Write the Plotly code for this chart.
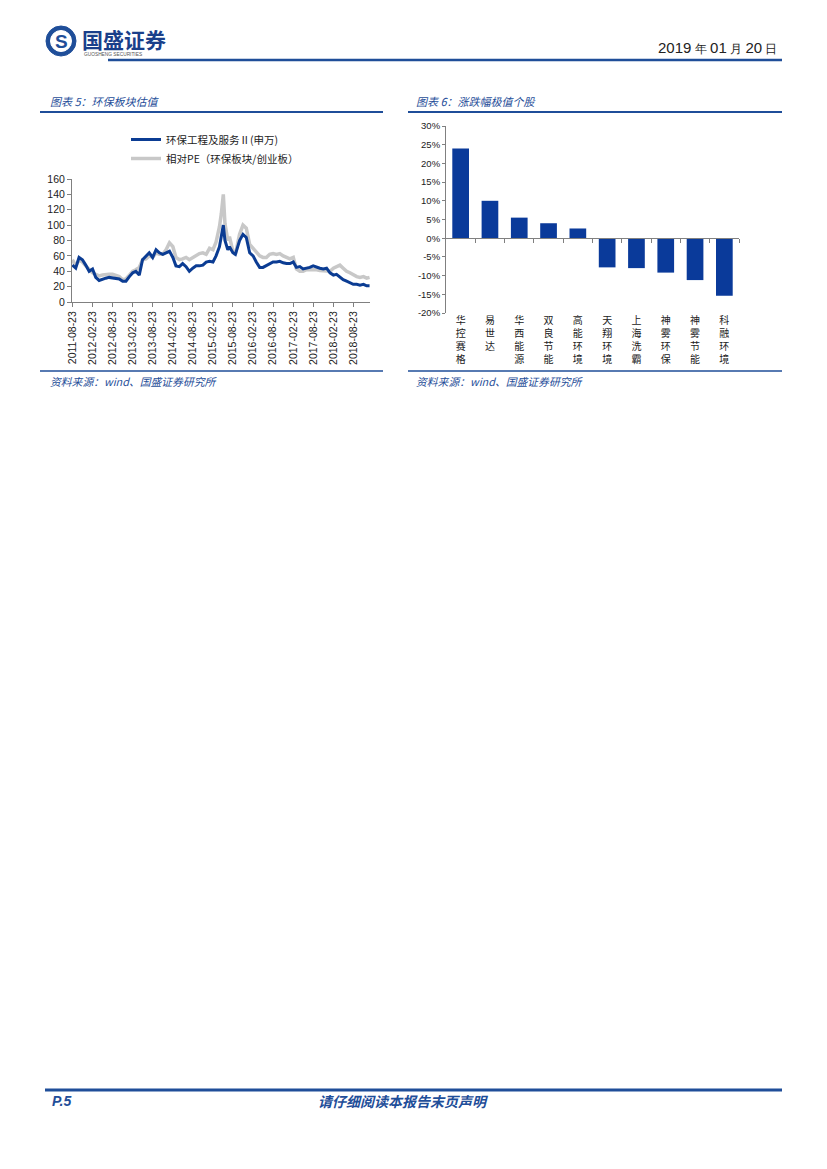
import plotly.graph_objects as go

W, H = 827, 1169

# ---------------- data: chart 5 (monthly readings) ----------------
dates = [
    "2011-08-23", "2011-09-23", "2011-10-23", "2011-11-23", "2011-12-23",
    "2012-01-23", "2012-02-23", "2012-03-23", "2012-04-23", "2012-05-23", "2012-06-23",
    "2012-07-23", "2012-08-23", "2012-09-23", "2012-10-23", "2012-11-23", "2012-12-23",
    "2013-01-23", "2013-02-23", "2013-03-23", "2013-04-23", "2013-05-23", "2013-06-23",
    "2013-07-23", "2013-08-23", "2013-09-23", "2013-10-23", "2013-11-23", "2013-12-23",
    "2014-01-23", "2014-02-23", "2014-03-23", "2014-04-23", "2014-05-23", "2014-06-23",
    "2014-07-23", "2014-08-23", "2014-09-23", "2014-10-23", "2014-11-23", "2014-12-23",
    "2015-01-23", "2015-02-23", "2015-03-23", "2015-04-23", "2015-05-10", "2015-05-28",
    "2015-06-12", "2015-07-08", "2015-07-23", "2015-08-23", "2015-09-15", "2015-10-23",
    "2015-11-23", "2015-12-23", "2016-01-23", "2016-02-23", "2016-03-23", "2016-04-23",
    "2016-05-23", "2016-06-23", "2016-07-23", "2016-08-23", "2016-09-23", "2016-10-23",
    "2016-11-23", "2016-12-23", "2017-01-23", "2017-02-23", "2017-03-23", "2017-04-23",
    "2017-05-23", "2017-06-23", "2017-07-23", "2017-08-23", "2017-09-23", "2017-10-23",
    "2017-11-23", "2017-12-23", "2018-01-23", "2018-02-23", "2018-03-23", "2018-04-23",
    "2018-05-23", "2018-06-23", "2018-07-23", "2018-08-23", "2018-09-23", "2018-10-23",
    "2018-11-23", "2018-12-23", "2019-01-18",
]
pe_sw = [
    48, 44, 58, 55, 48,
    40, 43, 32, 28, 30, 31,
    32, 31, 31, 30, 27, 27,
    33, 38, 40, 35, 55, 60,
    64, 58, 68, 64, 62, 64,
    66, 58, 47, 46, 50, 46,
    40, 44, 47, 47, 48, 52,
    53, 52, 60, 72, 85, 100,
    80, 68, 72, 64, 62, 80,
    88, 84, 64, 60, 52, 45,
    45, 47, 50, 52, 52, 53,
    51, 50, 50, 52, 45, 46,
    43, 44, 45, 47, 45, 44,
    43, 44, 38, 35, 36, 32,
    29, 27, 25, 23, 23, 22,
    23, 21, 21,
]
pe_rel = [
    55, 47, 55, 52, 47,
    42, 38, 36, 34, 35, 36,
    36, 36, 35, 33, 29, 30,
    35, 40, 42, 45, 55, 56,
    60, 58, 64, 62, 62, 68,
    77, 72, 58, 55, 56, 58,
    55, 58, 60, 63, 64, 62,
    70, 68, 78, 98, 115, 140,
    102, 80, 85, 66, 62, 88,
    100, 96, 75, 70, 65, 60,
    58, 58, 62, 63, 62, 63,
    60, 58, 56, 58, 43, 40,
    40, 42, 42, 43, 42, 41,
    41, 40, 40, 44, 46, 48,
    44, 40, 38, 35, 33, 32,
    33, 31, 32,
]
x_ticks5 = [
    "2011-08-23", "2012-02-23", "2012-08-23", "2013-02-23", "2013-08-23",
    "2014-02-23", "2014-08-23", "2015-02-23", "2015-08-23", "2016-02-23",
    "2016-08-23", "2017-02-23", "2017-08-23", "2018-02-23", "2018-08-23",
]
y_ticks5 = [0, 20, 40, 60, 80, 100, 120, 140, 160]
name_sw = "环保工程及服务Ⅱ(申万)"
name_rel = "相对PE（环保板块/创业板）"

# ---------------- data: chart 6 ----------------
stocks = ["华控赛格", "易世达", "华西能源", "双良节能", "高能环境",
          "天翔环境", "上海洗霸", "神雾环保", "神雾节能", "科融环境"]
changes = [24.0, 10.0, 5.5, 4.0, 2.6, -7.8, -8.0, -9.2, -11.2, -15.4]
y_ticks6 = [30, 25, 20, 15, 10, 5, 0, -5, -10, -15, -20]

# ---------------- helpers ----------------
def px(x):
    return x / W

def py(y):
    return 1 - y / H

BLUE = "#0B3C93"
GRAY = "#C8C8C8"
HEAD = "#1F4E99"
AXIS = "#808080"
TXT = "#222222"
FONT = "Liberation Sans, Arial, sans-serif"
CJK = "Noto Sans CJK SC, sans-serif"

fig = go.Figure()

fig.add_trace(go.Scatter(x=dates, y=pe_rel, mode="lines", name=name_rel,
                         line=dict(color=GRAY, width=3.5), xaxis="x", yaxis="y"))
fig.add_trace(go.Scatter(x=dates, y=pe_sw, mode="lines", name=name_sw,
                         line=dict(color=BLUE, width=3), xaxis="x", yaxis="y"))

fig.add_trace(go.Bar(x=stocks, y=changes, marker=dict(color="#0A3A9A", line=dict(width=0)),
                     width=0.57, showlegend=False, xaxis="x2", yaxis="y2"))
# invisible helper trace to carry the zero-line tick axis
fig.add_trace(go.Scatter(x=[0], y=[0], mode="markers", marker=dict(opacity=0),
                         showlegend=False, hoverinfo="skip", xaxis="x3", yaxis="y2"))

# chart geometry (pixels)
L5, R5, T5, B5 = 72, 370, 179, 302
L6, R6, T6, B6 = 446, 739, 126, 313
y6min, y6max = -20, 30
zero_pos = py(B6) + (0 - y6min) / (y6max - y6min) * (py(T6) - py(B6))

tick_labels6 = []
for s in stocks:
    tick_labels6.append("<br>".join(list(s)))

fig.update_layout(
    width=W, height=H,
    margin=dict(l=0, r=0, t=0, b=0, autoexpand=False),
    paper_bgcolor="white", plot_bgcolor="white",
    font=dict(family=FONT, size=10, color=TXT),
    showlegend=True,
    legend=dict(x=px(126), y=py(125), xanchor="left", yanchor="top",
                traceorder="reversed", font=dict(family=CJK, size=10.5, color=TXT),
                bgcolor="rgba(0,0,0,0)", itemwidth=30, tracegroupgap=0),
    xaxis=dict(domain=[px(L5), px(R5)], anchor="y", type="date",
               range=["2011-08-20", "2019-01-22"],
               tickvals=x_ticks5, ticktext=x_ticks5, tickangle=-90,
               showgrid=False, zeroline=False, showline=True, linecolor=AXIS, linewidth=1,
               ticks="outside", ticklen=4, tickcolor=AXIS,
               tickfont=dict(family=FONT, size=10.5, color=TXT)),
    yaxis=dict(domain=[py(B5), py(T5)], anchor="x", range=[0, 160],
               tickvals=y_ticks5, showgrid=False, zeroline=False,
               showline=True, linecolor=AXIS, linewidth=1,
               ticks="outside", ticklen=4, tickcolor=AXIS,
               tickfont=dict(family=FONT, size=10.5, color=TXT)),
    xaxis2=dict(domain=[px(L6), px(R6)], anchor="y2", type="category",
                range=[-0.5, 9.5], tickvals=stocks, ticktext=tick_labels6,
                showgrid=False, zeroline=False, showline=False, ticks="",
                tickfont=dict(family=CJK, size=10, color=TXT)),
    xaxis3=dict(domain=[px(L6), px(R6)], overlaying="x2", anchor="free", position=zero_pos,
                type="linear", range=[-0.5, 9.5],
                tickvals=[0.5, 1.5, 2.5, 3.5, 4.5, 5.5, 6.5, 7.5, 8.5, 9.5],
                showticklabels=False, showgrid=False, zeroline=False,
                showline=True, linecolor=AXIS, linewidth=1,
                ticks="outside", ticklen=4, tickcolor=AXIS),
    yaxis2=dict(domain=[py(B6), py(T6)], anchor="x2", range=[y6min, y6max],
                tickvals=y_ticks6, ticktext=[f"{v}%" for v in y_ticks6],
                showgrid=False, zeroline=False, showline=True, linecolor=AXIS, linewidth=1,
                ticks="outside", ticklen=3, tickcolor=AXIS,
                tickfont=dict(family=FONT, size=9.5, color=TXT)),
    bargap=0.43,
)

# ---------------- page decorations ----------------
shapes = []
def hline(x0, x1, y, w, color=HEAD):
    shapes.append(dict(type="line", xref="paper", yref="paper",
                       x0=px(x0), x1=px(x1), y0=py(y), y1=py(y),
                       line=dict(color=color, width=w)))

hline(108, 782, 60, 2.5)
hline(40, 383, 112, 2)
hline(408, 782, 112, 2)
hline(40, 383, 371, 1.5)
hline(408, 782, 371, 1.5)
hline(45, 782, 1090, 3)

# logo circle
shapes.append(dict(type="circle", xref="paper", yref="paper",
                   x0=px(46), x1=px(76), y0=py(56), y1=py(26),
                   fillcolor=HEAD, line=dict(color=HEAD, width=1)))
shapes.append(dict(type="circle", xref="paper", yref="paper",
                   x0=px(50.5), x1=px(71.5), y0=py(51.5), y1=py(30.5),
                   fillcolor="white", line=dict(color="white", width=1)))
fig.update_layout(shapes=shapes)

ann = []
def text(x, y, s, size, color=TXT, xanchor="left", family=CJK, yanchor="middle"):
    ann.append(dict(x=px(x), y=py(y), xref="paper", yref="paper", text=s, showarrow=False,
                    xanchor=xanchor, yanchor=yanchor, font=dict(family=family, size=size, color=color)))

text(61, 41.5, "<b>S</b>", 19, HEAD, xanchor="center", family=FONT)
text(80, 39, "<b>国盛证券</b>", 21, "#1A3F8A")
text(82, 55, "GUOSHENG SECURITIES", 4.8, "#555555", family=FONT)
text(779, 47, "2019<span style='font-size:12px'> 年 </span>01<span style='font-size:12px'> 月 </span>20<span style='font-size:12px'> 日</span>",
     15, TXT, xanchor="right", family=FONT)
text(48, 101, "<i>图表 5：环保板块估值</i>", 11, HEAD)
text(414, 101, "<i>图表 6：涨跌幅极值个股</i>", 11, HEAD)
text(48, 381, "<i>资料来源：wind、国盛证券研究所</i>", 10.8, HEAD)
text(414, 381, "<i>资料来源：wind、国盛证券研究所</i>", 10.8, HEAD)
text(50, 1101, "<b><i>P.5</i></b>", 14, HEAD, family=FONT)
text(403, 1101, "<b><i>请仔细阅读本报告末页声明</i></b>", 14, HEAD, xanchor="center")
fig.update_layout(annotations=ann)

fig.write_html("out.html", config={"displayModeBar": False},
               post_script="document.body.style.margin='0';")
